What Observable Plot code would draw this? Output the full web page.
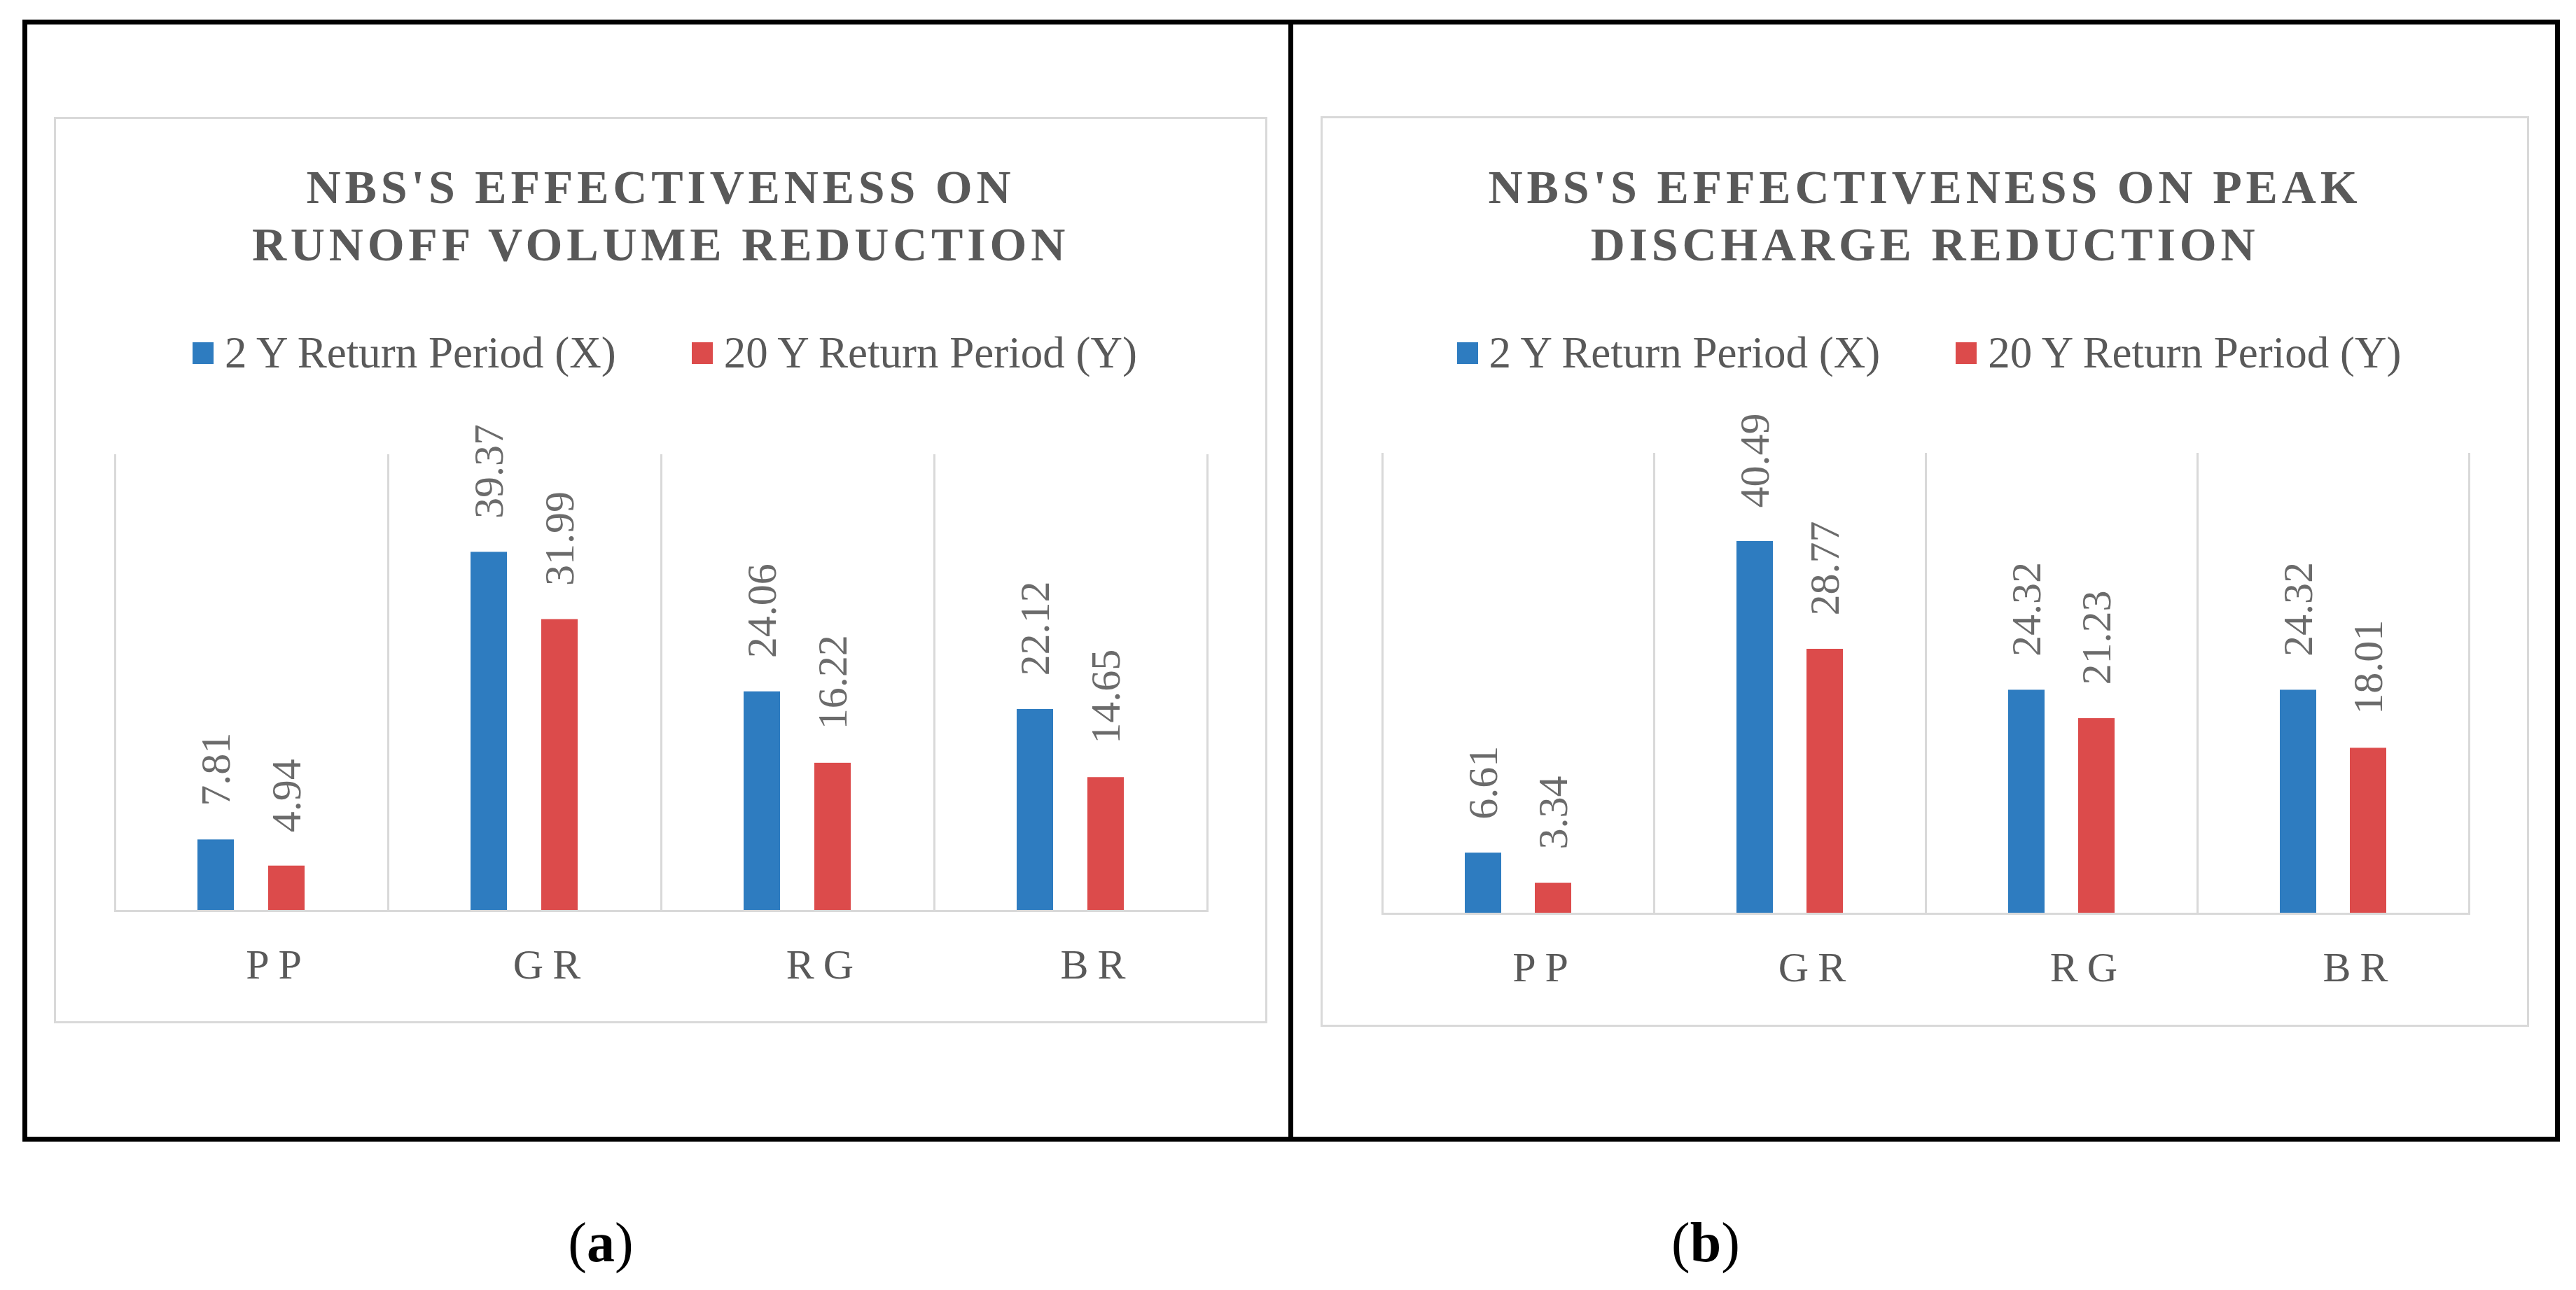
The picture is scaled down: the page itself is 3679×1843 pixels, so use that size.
<!DOCTYPE html>
<html>
<head>
<meta charset="utf-8">
<script src="https://cdn.jsdelivr.net/npm/d3@7"></script>
<script src="https://cdn.jsdelivr.net/npm/@observablehq/plot@0.6"></script>
<style>
html,body{margin:0;padding:0;background:#fff;width:3679px;height:1843px;overflow:hidden;}
.abs{position:absolute;}
.outer{border:7px solid #000;box-sizing:border-box;}
.divider{background:#000;}
.box{border:3px solid #d9d9d9;box-sizing:border-box;background:#fff;}
.title{font-family:"Liberation Serif","DejaVu Serif",serif;font-weight:bold;font-size:68px;letter-spacing:5.8px;color:#595959;text-align:center;line-height:82px;white-space:nowrap;}
.legend{display:flex;justify-content:center;font-family:"Liberation Serif","DejaVu Serif",serif;font-size:63px;line-height:70px;color:#595959;white-space:nowrap;}
.item{margin:0 54px;}
.sw{display:inline-block;width:30px;height:31px;margin-right:16px;margin-bottom:5px;}
.caption{font-family:"Liberation Serif","Times New Roman",serif;font-size:80px;line-height:90px;text-align:center;color:#000;width:400px;}
</style>
</head>
<body>
<script>
// ---- data ----
const categories = ["PP", "GR", "RG", "BR"];
const seriesNames = ["2 Y Return Period (X)", "20 Y Return Period (Y)"];
const seriesColors = ["#2E7CC0", "#DC4B4B"];
const runoffX = [7.81, 39.37, 24.06, 22.12];
const runoffY = [4.94, 31.99, 16.22, 14.65];
const peakX = [6.61, 40.49, 24.32, 24.32];
const peakY = [3.34, 28.77, 21.23, 18.01];
const titleA = ["NBS'S EFFECTIVENESS ON", "RUNOFF VOLUME REDUCTION"];
const titleB = ["NBS'S EFFECTIVENESS ON PEAK", "DISCHARGE REDUCTION"];
const captions = ["a", "b"];

const fmt = d3.format(".2f");

function addDiv(cls, style, html) {
  const d = document.createElement("div");
  d.className = "abs " + cls;
  Object.assign(d.style, style);
  if (html != null) d.innerHTML = html;
  document.body.appendChild(d);
  return d;
}

// outer frame and divider
addDiv("outer", {left: "32px", top: "28px", width: "3624px", height: "1603px"});
addDiv("divider", {left: "1840px", top: "28px", width: "7px", height: "1603px"});

function chart(cfg) {
  const {box, title, xs, ys, mL, mR, plotTop, plotH} = cfg;
  addDiv("box", {left: box.l + "px", top: box.t + "px", width: box.w + "px", height: box.h + "px"});
  addDiv("title", {left: box.l + "px", top: "226px", width: box.w + "px"}, title.join("<br>"));
  const leg = addDiv("legend", {left: (box.l + 6) + "px", top: "469px", width: box.w + "px"});
  seriesNames.forEach((s, i) => {
    const it = document.createElement("span");
    it.className = "item";
    it.innerHTML = `<span class="sw" style="background:${seriesColors[i]}"></span>${s}`;
    leg.appendChild(it);
  });

  const data = categories.flatMap((c, i) => [
    {cat: c, series: seriesNames[0], value: xs[i]},
    {cat: c, series: seriesNames[1], value: ys[i]}
  ]);
  const mT = 10, mB = 140;
  const svg = Plot.plot({
    width: box.w,
    height: mT + plotH + mB,
    marginTop: mT, marginBottom: mB, marginLeft: mL, marginRight: mR,
    style: {fontFamily: '"Liberation Serif","DejaVu Serif",serif', background: "transparent", overflow: "visible"},
    fx: {domain: categories, padding: 0, label: null},
    x: {domain: seriesNames, paddingInner: 0.485, paddingOuter: 1.173, axis: null},
    y: {domain: [0, 50], axis: null},
    color: {domain: seriesNames, range: seriesColors},
    marks: [
      Plot.frame({anchor: "left", stroke: "#d9d9d9", strokeWidth: 3}),
      Plot.frame({anchor: "right", stroke: "#d9d9d9", strokeWidth: 3}),
      Plot.barY(data, {fx: "cat", x: "series", y: "value", fill: "series"}),
      Plot.ruleY([0], {stroke: "#d9d9d9", strokeWidth: 3}),
      Plot.text(data, {fx: "cat", x: "series", y: "value", text: d => fmt(d.value),
        rotate: -90, textAnchor: "start", dy: -48, fontSize: 60, fill: "#6b6b6b"}),
      Plot.axisFx({anchor: "bottom", tickSize: 0, tickPadding: 54, fontSize: 60, dx: 38,
        color: "#595959", label: null})
    ]
  });
  svg.style.position = "absolute";
  svg.style.left = box.l + "px";
  svg.style.top = (plotTop - mT) + "px";
  document.body.appendChild(svg);
  d3.select(svg).selectAll('g[aria-label="fx-axis tick label"] text')
    .style("letter-spacing", "13px").attr("fill", "#595959");
}

chart({box: {l: 77, t: 167, w: 1733, h: 1295}, title: titleA, xs: runoffX, ys: runoffY,
  mL: 86, mR: 85, plotTop: 650, plotH: 651});
chart({box: {l: 1886, t: 166, w: 1726, h: 1301}, title: titleB, xs: peakX, ys: peakY,
  mL: 88, mR: 86, plotTop: 648, plotH: 657});

// captions
[858, 2436].forEach((cx, i) => {
  addDiv("caption", {left: (cx - 200) + "px", top: "1730px"}, `(<b>${captions[i]}</b>)`);
});
</script>
</body>
</html>
